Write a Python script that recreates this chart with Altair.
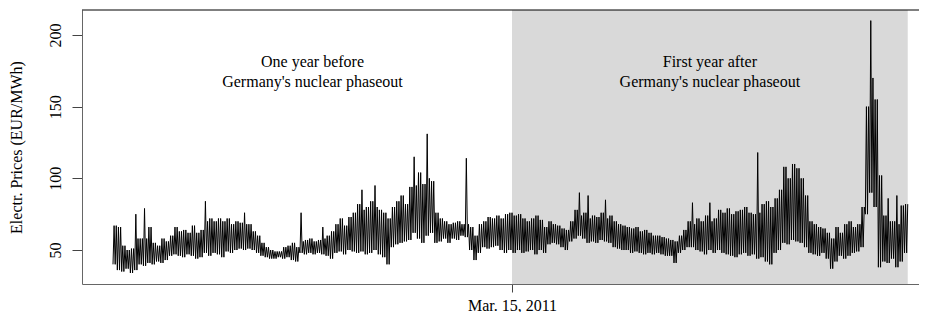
import altair as alt
import pandas as pd

# ---- data (daily low / high envelope, in 4-day steps) ----
start_date = "2010-03-13"
step_days = 4
phaseout_date = "2011-03-15"
tick_label = "Mar. 15, 2011"
y_ticks = [50, 100, 150, 200]
text_before = ["One year before", "Germany's nuclear phaseout"]
text_after = ["First year after", "Germany's nuclear phaseout"]
y_title = "Electr. Prices (EUR/MWh)"

lo = [40, 36, 35, 37, 34, 36, 40, 39, 41, 40, 42, 41, 43, 46, 47, 46, 45, 47, 46, 44,
      45, 48, 46, 48, 47, 45, 49, 48, 50, 51, 50, 51, 50, 48, 46, 45, 44, 44, 45, 44,
      45, 43, 42, 48, 47, 48, 47, 48, 47, 46, 44, 48, 49, 47, 50, 49, 48, 49, 47, 48,
      50, 47, 45, 40, 52, 54, 55, 56, 57, 62, 58, 55, 60, 62, 55, 56, 58, 55, 58, 57,
      60, 59, 50, 43, 48, 52, 51, 52, 53, 50, 48, 50, 48, 50, 48, 49, 50, 47, 50, 48,
      54, 55, 54, 52, 50, 56, 58, 60, 58, 55, 56, 55, 57, 56, 55, 52, 51, 50, 50, 48,
      49, 48, 47, 48, 47, 48, 47, 46, 46, 41, 48, 50, 52, 52, 50, 49, 47, 50, 48, 50,
      48, 47, 46, 45, 47, 48, 46, 47, 44, 45, 42, 40, 48, 50, 55, 54, 57, 56, 55, 52,
      48, 47, 46, 48, 44, 37, 42, 46, 44, 46, 48, 49, 52, 75, 90, 80, 38, 42, 41, 44,
      38, 42, 48]
hi = [67, 66, 53, 50, 51, 58, 58, 58, 66, 55, 53, 58, 56, 60, 66, 63, 64, 62, 67, 62,
      64, 70, 72, 70, 72, 70, 72, 68, 70, 69, 68, 68, 63, 60, 55, 52, 50, 49, 49, 52,
      53, 55, 52, 56, 57, 58, 56, 57, 58, 60, 63, 68, 72, 67, 73, 76, 82, 78, 80, 84,
      80, 78, 76, 72, 80, 84, 88, 82, 94, 95, 104, 96, 100, 98, 76, 72, 70, 68, 69, 70,
      68, 68, 66, 60, 68, 70, 73, 72, 74, 72, 75, 76, 74, 75, 72, 70, 72, 74, 71, 66,
      70, 68, 67, 65, 64, 70, 78, 74, 76, 72, 74, 73, 76, 72, 74, 70, 68, 67, 66, 65,
      66, 63, 64, 62, 60, 60, 59, 58, 57, 56, 60, 64, 70, 68, 72, 70, 74, 70, 72, 78,
      76, 79, 75, 77, 78, 80, 76, 75, 76, 82, 84, 80, 86, 92, 108, 100, 110, 107, 100, 88,
      70, 68, 66, 65, 62, 58, 66, 62, 68, 70, 66, 68, 80, 150, 170, 155, 102, 74, 70, 70,
      68, 81, 82]
# single-hour spikes (segment index, peak price)
spike_idx = [5, 7, 21, 30, 43, 48, 57, 60, 69, 72, 81, 107, 109, 113, 133, 137, 148, 174, 178, 180]
spike_val = [75, 79, 84, 76, 76, 66, 92, 95, 115, 131, 114, 90, 88, 85, 83, 83, 118, 210, 86, 88]

spikes = dict(zip(spike_idx, spike_val))
start = pd.Timestamp(start_date)
rows = []
for i, (l, h) in enumerate(zip(lo, hi)):
    day0 = step_days * i
    first_high = spikes.get(i, h)
    for k, v in enumerate((l, first_high, l, h)):
        rows.append({"date": start + pd.Timedelta(days=day0 + k * step_days / 4), "price": v})
df = pd.DataFrame(rows)
end = df["date"].max()
phase = pd.Timestamp(phaseout_date)

# ---- layout ----
W, H = 837, 274
FONT = "Liberation Serif"
FS = 16
px_per_day = (512 - 113) / (phase - start).days
dom_lo = start + pd.Timedelta(days=(82 - 113) / px_per_day)
dom_hi = start + pd.Timedelta(days=(82 + W - 113) / px_per_day)


def dt(ts):
    return alt.DateTime(year=ts.year, month=ts.month, date=ts.day,
                        hours=ts.hour, minutes=ts.minute)


xscale = alt.Scale(domain=[dt(dom_lo), dt(dom_hi)])
yscale = alt.Scale(domain=[26.3, 217.4], nice=False, zero=False)

rect_df = pd.DataFrame({"s": [phase], "e": [end]})
rect = alt.Chart(rect_df).mark_rect(color="#D9D9D9").encode(
    x=alt.X("s:T", scale=xscale),
    x2="e:T",
    y=alt.value(0),
    y2=alt.value(H),
)

line = alt.Chart(df).mark_line(color="black", strokeWidth=1).encode(
    x=alt.X("date:T", scale=xscale,
            axis=alt.Axis(values=[dt(phase)], labelExpr=f"'{tick_label}'", title=None,
                          grid=False, tickSize=8, tickColor="#444", domainColor="#666",
                          labelFont=FONT, labelFontSize=FS, labelColor="black",
                          labelBaseline="alphabetic", labelPadding=18)),
    y=alt.Y("price:Q", scale=yscale,
            axis=alt.Axis(values=y_ticks, title=y_title, grid=False, tickSize=10,
                          tickColor="#444", domainColor="#666",
                          labelAngle=270, labelAlign="center", labelBaseline="alphabetic",
                          labelFont=FONT, labelFontSize=FS, labelColor="black",
                          labelPadding=12, titleFont=FONT, titleFontSize=FS,
                          titleFontWeight="normal", titleColor="black",
                          titleAngle=270, titleAlign="center", titleBaseline="alphabetic",
                          titleX=-61, titleY=H / 2)),
)

mid_before = start + (phase - start) / 2
mid_after = phase + (end - phase) / 2
texts = []
for mid, lines in ((mid_before, text_before), (mid_after, text_after)):
    tdf = pd.DataFrame({"d": [mid]})
    for k, t in enumerate(lines):
        texts.append(alt.Chart(tdf).mark_text(text=t, font=FONT, fontSize=FS, color="black",
                                              baseline="middle").encode(
            x=alt.X("d:T", scale=xscale), y=alt.value(52 + 20 * k)))

topline = alt.Chart(pd.DataFrame({"a": [0]})).mark_rule(color="black", strokeWidth=1).encode(
    x=alt.value(0), x2=alt.value(W), y=alt.value(0))

chart = alt.layer(rect, line, *texts, topline).properties(
    width=W, height=H,
    autosize=alt.AutoSizeParams(type="none"),
    padding={"left": 74, "top": 2, "right": 0, "bottom": 28},
).configure_view(stroke=None)

chart.save("out.html", embed_options={"renderer": "svg", "actions": False})
